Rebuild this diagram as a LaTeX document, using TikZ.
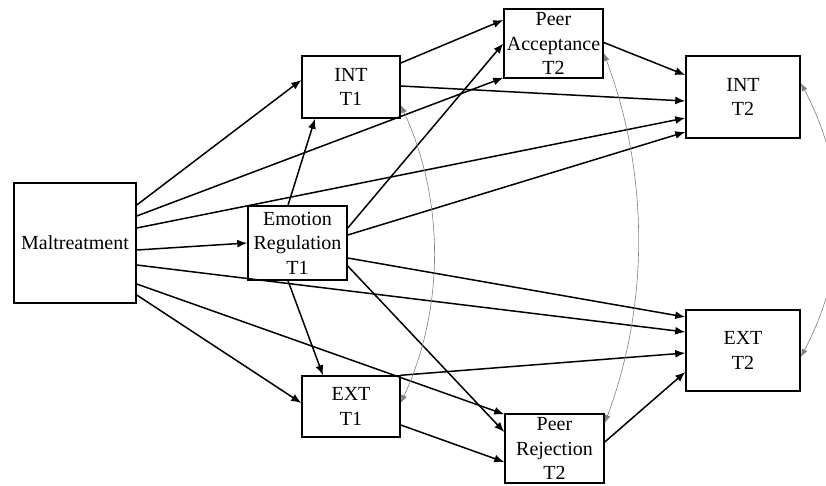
\documentclass[tikz,border=0pt]{standalone}
\usepackage{fontspec}
\setmainfont{Liberation Serif}
\usetikzlibrary{arrows.meta, positioning}

\begin{document}
\begin{tikzpicture}[x=1pt, y=-1pt,
    box/.style={draw, line width=1.5pt, inner sep=0pt, align=center, font=\rmfamily\fontsize{20}{24.5}\selectfont},
    path/.style={line width=1.5pt, -{Latex[length=10pt, width=8pt]}},
    corr/.style={gray, line width=0.6pt, {Latex[length=8pt, width=6pt]}-{Latex[length=8pt, width=6pt]}}]

\useasboundingbox (0,0) rectangle (826,485);

% Predictor
\node[box, minimum width=122pt, minimum height=120pt] (malt) at (75,243) {Maltreatment};

% Time 1
\node[box, minimum width=99pt, minimum height=74pt] (er) at (297.5,243) {Emotion\\Regulation\\T1};
\node[box, minimum width=98pt, minimum height=62pt] (int1) at (351,87) {INT\\T1};
\node[box, minimum width=98pt, minimum height=61pt] (ext1) at (351,406.5) {EXT\\T1};

% Time 2 peers
\node[box, minimum width=99pt, minimum height=69pt] (pa) at (553.5,43.5) {Peer\\Acceptance\\T2};
\node[box, minimum width=99pt, minimum height=69pt] (pr) at (554.5,448.5) {Peer\\Rejection\\T2};

% Time 2 outcomes
\node[box, minimum width=114pt, minimum height=82pt] (int2) at (743,97) {INT\\T2};
\node[box, minimum width=114pt, minimum height=81pt] (ext2) at (743,350.5) {EXT\\T2};

% Paths from maltreatment
\draw[path] ([yshift=38pt]malt.east) -- ([yshift=7pt]int1.west);
\draw[path] ([yshift=27pt]malt.east) -- ([yshift=1pt]pa.south west);
\draw[path] ([yshift=15pt]malt.east) -- ([yshift=-21pt]int2.west);
\draw[path] ([yshift=-7pt]malt.east) -- (er.west);
\draw[path] ([yshift=-22pt]malt.east) -- ([yshift=18.5pt]ext2.west);
\draw[path] ([yshift=-41pt]malt.east) -- ([yshift=-1pt]pr.north west);
\draw[path] ([yshift=-52pt]malt.east) -- ([yshift=3.5pt]ext1.west);

% Paths from emotion regulation
\draw[path] ([xshift=-9.5pt]er.north) -- ([xshift=-36pt]int1.south);
\draw[path] ([xshift=-9.5pt]er.south) -- ([xshift=-28pt]ext1.north);
\draw[path] ([yshift=15pt]er.east) -- (pa.west);
\draw[path] ([yshift=8pt]er.east) -- ([yshift=-35pt]int2.west);
\draw[path] ([yshift=-15pt]er.east) -- ([yshift=33.5pt]ext2.west);
\draw[path] ([yshift=-23pt]er.east) -- ([yshift=16.5pt]pr.west);

% Paths from INT T1 and EXT T1
\draw[path] ([yshift=24pt]int1.east) -- ([yshift=23.5pt]pa.west);
\draw[path] ([yshift=1pt]int1.east) -- ([yshift=-4pt]int2.west);
\draw[path] (ext1.north east) -- ([yshift=-2.5pt]ext2.west);
\draw[path] ([yshift=-18.5pt]ext1.east) -- ([yshift=-13.5pt]pr.west);

% Paths from peer variables
\draw[path] ([yshift=1pt]pa.east) -- ([yshift=22pt]int2.west);
\draw[path] ([yshift=6.5pt]pr.east) -- ([yshift=-21.5pt]ext2.west);

% Correlations
\draw[corr] ([yshift=-18pt]int1.east) .. controls +(44,95) and +(44,-95) .. ([yshift=3.5pt]ext1.east);
\draw[corr] ([yshift=-9.5pt]pa.east) .. controls +(45,120) and +(45,-120) .. ([yshift=25.5pt]pr.east);
\draw[corr] ([yshift=14pt]int2.east) .. controls +(48,90) and +(48,-90) .. ([yshift=-6.5pt]ext2.east);

\end{tikzpicture}
\end{document}
